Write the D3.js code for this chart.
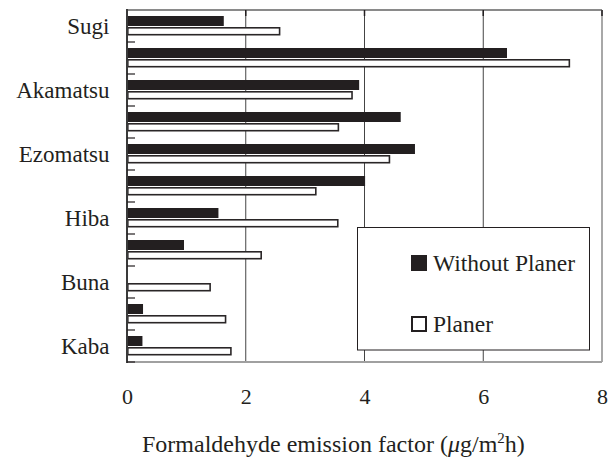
<!DOCTYPE html>
<html>
<head>
<meta charset="utf-8">
<script src="https://cdn.jsdelivr.net/npm/d3@7/dist/d3.min.js"></script>
</head>
<body style="margin:0">
<svg id="chart" width="615" height="457"></svg>
<script>
// ---- data ----
const categories = ["Sugi", "", "Akamatsu", "", "Ezomatsu", "", "Hiba", "", "Buna", "", "Kaba"];
const seriesNames = ["Without Planer", "Planer"];
const withoutPlaner = [1.63, 6.40, 3.91, 4.61, 4.85, 4.01, 1.54, 0.96, 0, 0.27, 0.26];
const planer = [2.57, 7.45, 3.79, 3.56, 4.42, 3.18, 3.55, 2.26, 1.40, 1.66, 1.75];
const xTicks = [0, 2, 4, 6, 8];
const xTitle = "Formaldehyde emission factor (";

// ---- layout ----
const FONT = '"Liberation Serif", "Times New Roman", serif';
const svg = d3.select("#chart");
const L = 127, R = 602, T = 10, B = 362;
const ink = "#231f20";

function serif(sel, size) {
  return sel.style("font-family", FONT).style("font-size", size + "px").attr("fill", ink);
}

const x = d3.scaleLinear().domain([0, 8]).range([L, R]);
const idx = categories.map((_, i) => i);
const y = d3.scaleBand().domain(idx).range([T, B]).paddingInner(0).paddingOuter(0);
const ySub = d3.scaleBand().domain(seriesNames).range([6, 26]).paddingInner(0);

// grid lines
svg.append("g").selectAll("line").data(xTicks.filter(d => d > 0 && d < 8)).join("line")
  .attr("x1", d => x(d)).attr("x2", d => x(d))
  .attr("y1", T).attr("y2", B)
  .attr("stroke", "#444").attr("stroke-width", 1);

// bars
const rows = idx.map(i => ({ i, w: withoutPlaner[i], p: planer[i] }));
const g = svg.append("g");
g.selectAll("rect.wo").data(rows).join("rect")
  .attr("class", "wo")
  .attr("x", x(0))
  .attr("y", d => y(d.i) + ySub("Without Planer"))
  .attr("width", d => x(d.w) - x(0))
  .attr("height", ySub.bandwidth())
  .attr("fill", ink);
const sw = 1.6;
g.selectAll("rect.pl").data(rows).join("rect")
  .attr("class", "pl")
  .attr("x", x(0) + sw / 2)
  .attr("y", d => y(d.i) + ySub("Planer") + 1 + sw / 2)
  .attr("width", d => Math.max(0, x(d.p) - x(0) - sw / 2))
  .attr("height", ySub.bandwidth() - 1.5 - sw)
  .attr("fill", "#fff")
  .attr("stroke", "#2a2627")
  .attr("stroke-width", sw);

// frame
svg.append("line").attr("x1", L).attr("x2", R).attr("y1", T).attr("y2", T)
  .attr("stroke", "#8a8a8a").attr("stroke-width", 2);
svg.append("line").attr("x1", R).attr("x2", R).attr("y1", T).attr("y2", B)
  .attr("stroke", "#a8a8a8").attr("stroke-width", 2);
svg.append("line").attr("x1", L).attr("x2", R).attr("y1", B).attr("y2", B)
  .attr("stroke", "#a0a0a0").attr("stroke-width", 2);
svg.append("g").selectAll("line").data(xTicks.filter(d => d > 0)).join("line")
  .attr("x1", d => x(d)).attr("x2", d => x(d))
  .attr("y1", T).attr("y2", T + 6)
  .attr("stroke", "#231f20").attr("stroke-width", 1.5);

// left axis with inside ticks at band boundaries
svg.append("line").attr("x1", L).attr("x2", L).attr("y1", T - 1).attr("y2", B + 1)
  .attr("stroke", "#3a3a3a").attr("stroke-width", 2);
const bounds = idx.slice(1).map(i => y(i)).concat([B]);
svg.append("g").selectAll("line").data(bounds).join("line")
  .attr("x1", L).attr("x2", L + 8)
  .attr("y1", d => d).attr("y2", d => d)
  .attr("stroke", "#231f20").attr("stroke-width", 1.2);

// category labels
serif(svg.append("g").selectAll("text").data(rows).join("text"), 23)
  .attr("x", 109.5)
  .attr("y", d => y(d.i) + y.bandwidth() / 2 + 7.5)
  .attr("text-anchor", "end")
  .text(d => categories[d.i]);

// x axis labels
const xAxis = d3.axisBottom(x).tickValues(xTicks).tickSize(0).tickPadding(0).tickFormat(d3.format("d"));
const ax = svg.append("g").attr("transform", `translate(0, ${B})`).call(xAxis);
ax.select(".domain").remove();
serif(ax.selectAll("text"), 22).attr("y", 42).attr("dy", 0);

// axis title
const t = serif(svg.append("text"), 24)
  .attr("x", 142).attr("y", 451.5)
  .attr("text-anchor", "start");
t.append("tspan").text(xTitle);
t.append("tspan").style("font-style", "italic").text("μ");
t.append("tspan").text("g/m");
t.append("tspan").style("font-size", "15px").attr("dy", -9).text("2");
t.append("tspan").attr("dy", 9).text("h)");

// legend
const lg = svg.append("g");
lg.append("rect").attr("x", 357.5).attr("y", 227.5).attr("width", 232).attr("height", 122.5)
  .attr("fill", "#fff").attr("stroke", "#231f20").attr("stroke-width", 1);
const legendRows = [
  { name: seriesNames[0], y: 255, fill: ink, stroke: ink },
  { name: seriesNames[1], y: 316, fill: "#fff", stroke: ink }
];
legendRows.forEach(r => {
  lg.append("rect").attr("x", 412).attr("y", r.y + 1).attr("width", 14).attr("height", 14)
    .attr("fill", r.fill).attr("stroke", r.stroke).attr("stroke-width", 2);
  serif(lg.append("text"), 23.5).attr("x", 433).attr("y", r.y + 16).text(r.name);
});
</script>
</body>
</html>
